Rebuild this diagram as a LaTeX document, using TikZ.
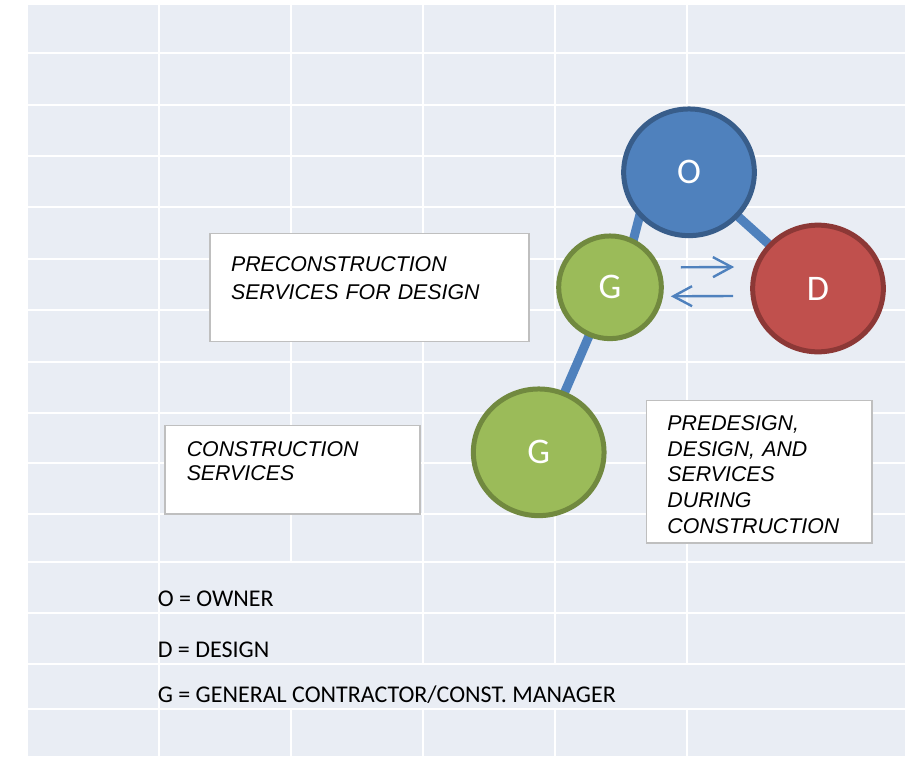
\documentclass[tikz,border=0pt]{standalone}
\usepackage{fontspec}
\setmainfont{Carlito}
\newfontfamily\notefont{Liberation Sans}
\usepackage{tikz}
\usetikzlibrary{shapes.geometric, arrows.meta, backgrounds}
\frenchspacing

\definecolor{sheet}{RGB}{233,237,244}
\definecolor{ownerfill}{RGB}{79,129,189}
\definecolor{ownerline}{RGB}{56,93,138}
\definecolor{gcfill}{RGB}{155,187,89}
\definecolor{gcline}{RGB}{113,137,63}
\definecolor{designfill}{RGB}{192,80,77}
\definecolor{designline}{RGB}{140,56,54}
\definecolor{notegray}{RGB}{191,191,191}

\begin{document}
\begin{tikzpicture}[
    x=0.75pt, y=-0.75pt,
    cell/.style={draw=white, line width=1.5pt},
    party/.style={ellipse, line width=3.75pt, inner sep=0pt, text=white, font=\fontsize{27}{32}\selectfont, minimum width=98pt, minimum height=95pt},
    owner/.style={party, fill=ownerfill, draw=ownerline},
    design/.style={party, fill=designfill, draw=designline},
    gc/.style={party, fill=gcfill, draw=gcline},
    note/.style={rectangle, draw=notegray, line width=1.1pt, fill=white, anchor=north west, inner ysep=0pt, inner xsep=15.75pt, align=left, font=\notefont\itshape\fontsize{16}{19.2}\selectfont},
    key/.style={anchor=base west, inner sep=0pt, font=\fontsize{18}{22}\selectfont},
    link/.style={draw=ownerfill, line width=6.75pt, shorten <=-6pt, shorten >=-6pt},
    flow/.style={draw=ownerfill, line width=1.8pt, -{Straight Barb[length=14pt, width=15pt]}}
]
\useasboundingbox (0,0) rectangle (905,756);

% Sheet with cell lines
\begin{scope}[on background layer]
\fill[sheet] (28,5) rectangle (905,756);
\foreach \y in {53.5,105,156,207,259,310,361.5,412.5,463,513.5,562,612.5,663.5,708.5}
  \draw[cell] (28,\y) -- (905,\y);
\draw[cell] (158.7,5) -- (158.7,756);
\draw[cell] (290.7,5) -- (290.7,562) (290.7,708.5) -- (290.7,756);
\foreach \x in {422.7,555,686.7}
  \draw[cell] (\x,5) -- (\x,663.5) (\x,708.5) -- (\x,756);
\end{scope}

% Nodes
\node[owner] (O) at (689,172.3) {O};
\node[gc, minimum width=77pt, minimum height=77pt] (Gpre) at (610,287.3) {G};
\node[design] (D) at (818,288.5) {D};
\node[gc] (Gcon) at (538.7,452.3) {G};

\node[note, text width=207.75pt, text height=28.3pt, text depth=52.7pt, font=\notefont\itshape\fontsize{16}{20.7}\selectfont] (precon) at (209.3,233) {PRECONSTRUCTION\\SERVICES FOR DESIGN};
\node[note, inner xsep=16.3pt, text width=158.7pt, text height=23pt, text depth=43.2pt, font=\notefont\itshape\fontsize{16}{18.2}\selectfont] (con) at (164.3,425) {CONSTRUCTION\\SERVICES};
\node[note, text width=137.7pt, text height=22.5pt, text depth=84.2pt] (predesign) at (645.7,400) {PREDESIGN,\\DESIGN, AND\\SERVICES\\DURING\\CONSTRUCTION};

\node[key] (keyO) at (157.5,606.7) {O = OWNER};
\node[key] (keyD) at (157.5,657.3) {D = DESIGN};
\node[key] (keyG) at (157.5,702.7) {G = GENERAL CONTRACTOR/CONST. MANAGER};

% Connections
\begin{scope}[on background layer]
\draw[link] (O.222) -- (Gpre.64);
\draw[link] (O) -- (D);
\draw[link] (Gpre) -- (Gcon);
\end{scope}
\draw[flow] ([shift={(17,-20)}]Gpre.east) -- ([shift={(-16,-21.5)}]D.west);
\draw[flow] ([shift={(-17,7.5)}]D.west) -- ([shift={(7,9)}]Gpre.east);
\end{tikzpicture}
\end{document}
